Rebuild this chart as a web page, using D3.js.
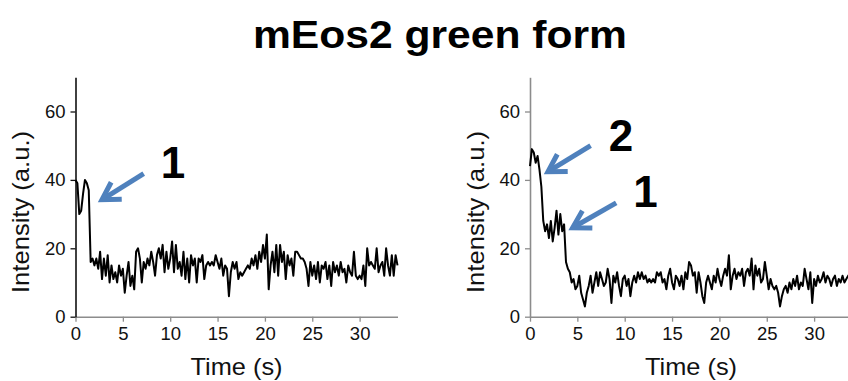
<!DOCTYPE html>
<html>
<head>
<meta charset="utf-8">
<script src="https://cdnjs.cloudflare.com/ajax/libs/d3/7.8.5/d3.min.js"></script>
<style>
  html, body { margin: 0; padding: 0; background: #fff; }
  svg { display: block; }
</style>
</head>
<body>
<script>
// chart text
var chartTitle = "mEos2 green form";
var xLabel = "Time (s)";
var yLabel = "Intensity (a.u.)";

// axes
var xTicks = [0, 5, 10, 15, 20, 25, 30];
var yTicks = [0, 20, 40, 60];
var xMax = 34, yMax = 70;

// one sample every 0.2 s
var sampleStep = 0.2;

var leftTrace = [
  40, 39, 30, 31, 36, 40, 39, 37, 16, 17,
  15, 17, 14, 19, 11, 17, 12, 18, 10, 15,
  11, 13, 10, 15, 12, 14, 7, 12, 16, 9,
  12, 8, 19, 20, 17, 10, 16, 14, 17, 15,
  19, 16, 12, 18, 20, 17, 21, 13, 19, 14,
  17, 22, 13, 21, 14, 16, 12, 19, 11, 17,
  10, 18, 15, 17, 10, 17, 16, 18, 11, 15,
  16, 15, 16, 15, 18, 16, 14, 17, 12, 15,
  14, 6, 13, 16, 14, 16, 11, 13, 12, 13,
  14, 15, 14, 17, 15, 18, 14, 19, 16, 21,
  17, 24, 8, 15, 19, 13, 21, 12, 21, 16,
  19, 11, 18, 15, 17, 12, 19, 19, 18, 17,
  17, 16, 14, 9, 16, 12, 15, 11, 16, 10,
  15, 14, 16, 11, 15, 9, 16, 13, 15, 12,
  16, 13, 14, 10, 15, 13, 12, 19, 12, 11,
  12, 11, 15, 9, 20, 15, 16, 15, 14, 20,
  13, 15, 16, 12, 20, 15, 12, 18, 12, 18,
  15
];

var rightTrace = [
  44, 49, 48, 45, 47, 43, 38, 28, 25, 27,
  23, 28, 22, 26, 31, 24, 30, 25, 27, 16,
  14, 13, 10, 11, 8, 9, 12, 7, 5, 3,
  7, 9, 12, 7, 10, 13, 9, 13, 11, 9,
  10, 14, 11, 4, 12, 10, 13, 9, 6, 11,
  12, 9, 11, 6, 10, 12, 10, 13, 11, 13,
  11, 12, 10, 11, 10, 11, 10, 13, 12, 13,
  10, 11, 8, 12, 14, 10, 8, 12, 11, 9,
  12, 8, 13, 11, 16, 15, 12, 13, 7, 13,
  10, 6, 4, 10, 12, 10, 8, 12, 10, 14,
  11, 9, 12, 14, 12, 18, 8, 12, 14, 11,
  13, 12, 14, 9, 13, 14, 12, 17, 8, 15,
  12, 14, 10, 11, 16, 12, 8, 11, 9, 8,
  9, 7, 3, 6, 8, 9, 7, 10, 8, 11,
  9, 12, 8, 10, 9, 14, 11, 8, 13, 4,
  11, 9, 12, 10, 11, 13, 10, 12, 11, 9,
  11, 12, 9, 11, 10, 12, 10, 11, 12, 11,
  10
];

// arrows: tail and tip in data units, label position in data units
var leftNotes = [
  { label: "1", tail: [7.2, 41.8], tip: [2.8, 34.2], text: [10.3, 40.6] }
];
var rightNotes = [
  { label: "2", tail: [6.4, 50.0], tip: [1.9, 42.4], text: [9.6, 48.5] },
  { label: "1", tail: [9.1, 33.3], tip: [4.5, 26.0], text: [12.2, 32.1] }
];

const arrowCol = "#4f81bd",
      axisCol = "#8c8c8c";

var width = 848, height = 381;

var svg = d3.select("body")
    .append("svg")
    .attr("width", width)
    .attr("height", height);

svg.append("text")
    .text(chartTitle)
    .attr("x", 440)
    .attr("y", 48)
    .attr("font-family", "Liberation Sans, Arial, sans-serif")
    .attr("font-weight", "bold")
    .attr("font-size", "38px")
    .attr("text-anchor", "middle")
    .attr("textLength", 374)
    .attr("lengthAdjust", "spacingAndGlyphs")
    .attr("fill", "#000");

function drawPanel(left, trace, notes, yAxisCol) {
    var top = 77.3, bottom = 316.7,
        plotW = 322;

    var x = d3.scaleLinear().domain([0, xMax]).range([left, left + plotW]);
    var y = d3.scaleLinear().domain([0, yMax]).range([bottom, top]);

    var g = svg.append("g");

    // x axis
    var xa = g.append("g")
        .attr("transform", "translate(0," + bottom + ")")
        .call(d3.axisBottom(x).tickValues(xTicks).tickSize(5).tickPadding(5).tickSizeOuter(0));
    xa.select(".domain").attr("stroke", axisCol).attr("stroke-width", 1.6);
    xa.selectAll(".tick line").attr("stroke", axisCol).attr("stroke-width", 1.3);

    // y axis
    var ya = g.append("g")
        .attr("transform", "translate(" + left + ",0)")
        .call(d3.axisLeft(y).tickValues(yTicks).tickSize(5).tickPadding(5).tickSizeOuter(0));
    ya.select(".domain").attr("stroke", yAxisCol).attr("stroke-width", 1.6);
    ya.selectAll(".tick line").attr("stroke", yAxisCol).attr("stroke-width", 1.3);

    g.selectAll(".tick text")
        .attr("font-family", "Liberation Sans, Arial, sans-serif")
        .attr("font-size", "18.5px")
        .attr("fill", "#111");

    // axis titles
    g.append("text")
        .text(xLabel)
        .attr("x", left + plotW / 2)
        .attr("y", 375)
        .attr("font-family", "Liberation Sans, Arial, sans-serif")
        .attr("font-size", "24px")
        .attr("text-anchor", "middle")
        .attr("textLength", 92)
        .attr("lengthAdjust", "spacingAndGlyphs")
        .attr("fill", "#111");

    g.append("text")
        .text(yLabel)
        .attr("transform", "translate(" + (left - 46.5) + ",212) rotate(-90)")
        .attr("font-family", "Liberation Sans, Arial, sans-serif")
        .attr("font-size", "24px")
        .attr("text-anchor", "middle")
        .attr("textLength", 162)
        .attr("lengthAdjust", "spacingAndGlyphs")
        .attr("fill", "#111");

    // trace
    var line = d3.line()
        .x(function (d, i) { return x(i * sampleStep); })
        .y(function (d) { return y(d); });

    g.append("path")
        .datum(trace)
        .attr("d", line)
        .attr("fill", "none")
        .attr("stroke", "#000")
        .attr("stroke-width", 2)
        .attr("stroke-linejoin", "round");

    // arrows and step numbers
    notes.forEach(function (n) {
        var tx = x(n.tail[0]), ty = y(n.tail[1]),
            px = x(n.tip[0]), py = y(n.tip[1]);
        var dx = px - tx, dy = py - ty,
            len = Math.sqrt(dx * dx + dy * dy);
        var ux = dx / len, uy = dy / len;
        var hl = 17, hw = 10;

        g.append("line")
            .attr("x1", tx).attr("y1", ty)
            .attr("x2", px - ux * 2).attr("y2", py - uy * 2)
            .attr("stroke", arrowCol)
            .attr("stroke-width", 5);

        var a1 = [px - ux * hl - uy * hw, py - uy * hl + ux * hw],
            a2 = [px - ux * hl + uy * hw, py - uy * hl - ux * hw];
        g.append("path")
            .attr("d", "M" + a1 + "L" + px + "," + py + "L" + a2)
            .attr("fill", "none")
            .attr("stroke", arrowCol)
            .attr("stroke-width", 5)
            .attr("stroke-linejoin", "miter");

        g.append("text")
            .text(n.label)
            .attr("x", x(n.text[0]))
            .attr("y", y(n.text[1]))
            .attr("font-family", "Liberation Sans, Arial, sans-serif")
            .attr("font-weight", "bold")
            .attr("font-size", "44px")
            .attr("text-anchor", "middle")
            .attr("fill", "#000");
    });
}

drawPanel(75.5, leftTrace, leftNotes, "#111");
drawPanel(530, rightTrace, rightNotes, axisCol);
</script>
</body>
</html>
